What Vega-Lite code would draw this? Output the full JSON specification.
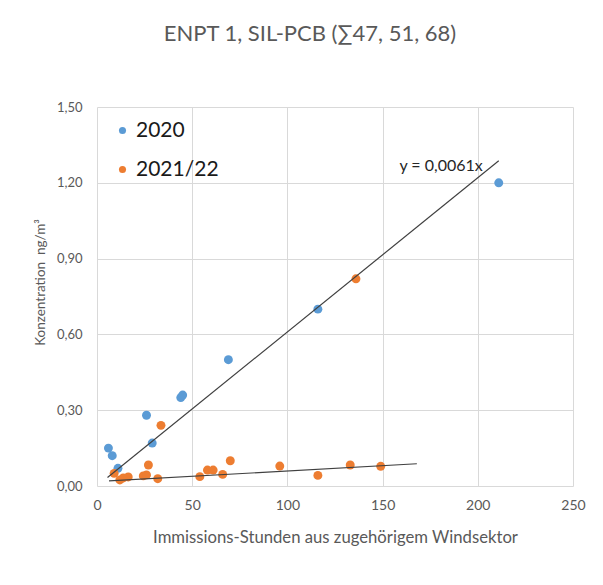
{
  "$schema": "https://vega.github.io/schema/vega-lite/v6.json",
  "width": 476,
  "height": 379,
  "autosize": {"type": "none"},
  "padding": {"left": 97, "top": 107, "right": 30, "bottom": 99},
  "background": "white",
  "title": {
    "text": "ENPT 1, SIL-PCB (∑47, 51, 68)",
    "font": "Lato",
    "fontSize": 22,
    "fontWeight": "normal",
    "color": "#595959",
    "anchor": "middle",
    "dx": -25,
    "offset": 55
  },
  "datasets": {
    "points": [
      {"series": "2020", "hours": 6, "conc": 0.15},
      {"series": "2020", "hours": 8, "conc": 0.12},
      {"series": "2020", "hours": 11, "conc": 0.07},
      {"series": "2020", "hours": 26, "conc": 0.28},
      {"series": "2020", "hours": 29, "conc": 0.17},
      {"series": "2020", "hours": 44, "conc": 0.35},
      {"series": "2020", "hours": 45, "conc": 0.36},
      {"series": "2020", "hours": 69, "conc": 0.50},
      {"series": "2020", "hours": 116, "conc": 0.70},
      {"series": "2020", "hours": 211, "conc": 1.20},
      {"series": "2021/22", "hours": 9, "conc": 0.05},
      {"series": "2021/22", "hours": 12, "conc": 0.024},
      {"series": "2021/22", "hours": 13.8, "conc": 0.032},
      {"series": "2021/22", "hours": 16.4, "conc": 0.036},
      {"series": "2021/22", "hours": 24.3, "conc": 0.04},
      {"series": "2021/22", "hours": 26, "conc": 0.044},
      {"series": "2021/22", "hours": 27, "conc": 0.083},
      {"series": "2021/22", "hours": 31.9, "conc": 0.029},
      {"series": "2021/22", "hours": 33.6, "conc": 0.24},
      {"series": "2021/22", "hours": 54, "conc": 0.037},
      {"series": "2021/22", "hours": 58, "conc": 0.063},
      {"series": "2021/22", "hours": 61, "conc": 0.063},
      {"series": "2021/22", "hours": 66, "conc": 0.046},
      {"series": "2021/22", "hours": 70, "conc": 0.10},
      {"series": "2021/22", "hours": 96, "conc": 0.079},
      {"series": "2021/22", "hours": 116, "conc": 0.042},
      {"series": "2021/22", "hours": 133, "conc": 0.083},
      {"series": "2021/22", "hours": 136, "conc": 0.82},
      {"series": "2021/22", "hours": 149, "conc": 0.078}
    ],
    "trends": [
      {"line": "t1", "hours": 5.5, "conc": 0.0336},
      {"line": "t1", "hours": 211, "conc": 1.287},
      {"line": "t2", "hours": 6.3, "conc": 0.020},
      {"line": "t2", "hours": 168, "conc": 0.088}
    ],
    "labels": [
      {"hours": 180.7, "conc": 1.266, "text": "y = 0,0061x"}
    ]
  },
  "encoding": {
    "x": {
      "field": "hours",
      "type": "quantitative",
      "scale": {"domain": [0, 250], "nice": false, "zero": false},
      "axis": {
        "title": "Immissions-Stunden aus zugehörigem Windsektor",
        "values": [0, 50, 100, 150, 200, 250]
      }
    },
    "y": {
      "field": "conc",
      "type": "quantitative",
      "scale": {"domain": [0, 1.5], "nice": false, "zero": false},
      "axis": {
        "title": "Konzentration\u00a0 ng/m³",
        "values": [0, 0.3, 0.6, 0.9, 1.2, 1.5],
        "labelExpr": "replace(format(datum.value, '.2f'), '.', ',')"
      }
    }
  },
  "layer": [
    {
      "data": {"name": "points"},
      "mark": {"type": "point", "filled": true, "size": 80, "opacity": 1},
      "encoding": {
        "color": {
          "field": "series",
          "type": "nominal",
          "scale": {"domain": ["2020", "2021/22"], "range": ["#5B9BD5", "#ED7D31"]},
          "legend": {
            "orient": "none",
            "legendX": 15,
            "legendY": 13,
            "title": null,
            "labelFont": "Lato",
            "labelFontSize": 21,
            "labelColor": "#1a1a1a",
            "symbolType": "circle",
            "symbolSize": 50,
            "symbolStrokeWidth": 0,
            "rowPadding": 17,
            "labelOffset": 3,
            "padding": 0
          }
        }
      }
    },
    {
      "data": {"name": "trends"},
      "mark": {"type": "line", "color": "#404040", "strokeWidth": 1.2},
      "encoding": {
        "detail": {"field": "line", "type": "nominal"}
      }
    },
    {
      "data": {"name": "labels"},
      "mark": {"type": "text", "font": "Lato", "fontSize": 16, "color": "#262626", "align": "center", "baseline": "middle"},
      "encoding": {
        "text": {"field": "text", "type": "nominal"}
      }
    }
  ],
  "config": {
    "view": {"stroke": null},
    "axis": {
      "grid": true,
      "gridColor": "#d9d9d9",
      "gridWidth": 1,
      "domain": false,
      "ticks": false,
      "tickSize": 0,
      "labelFlush": false,
      "labelFont": "Lato",
      "labelColor": "#595959",
      "titleFont": "Lato",
      "titleColor": "#595959",
      "titleFontWeight": "normal"
    },
    "axisX": {
      "labelFontSize": 14,
      "labelPadding": 12,
      "titleFontSize": 16.7,
      "titleY": 51,
      "titleBaseline": "middle"
    },
    "axisY": {
      "labelFontSize": 13,
      "labelPadding": 15,
      "titleFontSize": 13.5,
      "titleX": -57,
      "titleY": 175,
      "titleAngle": -90,
      "titleAlign": "center",
      "titleBaseline": "middle"
    }
  }
}
